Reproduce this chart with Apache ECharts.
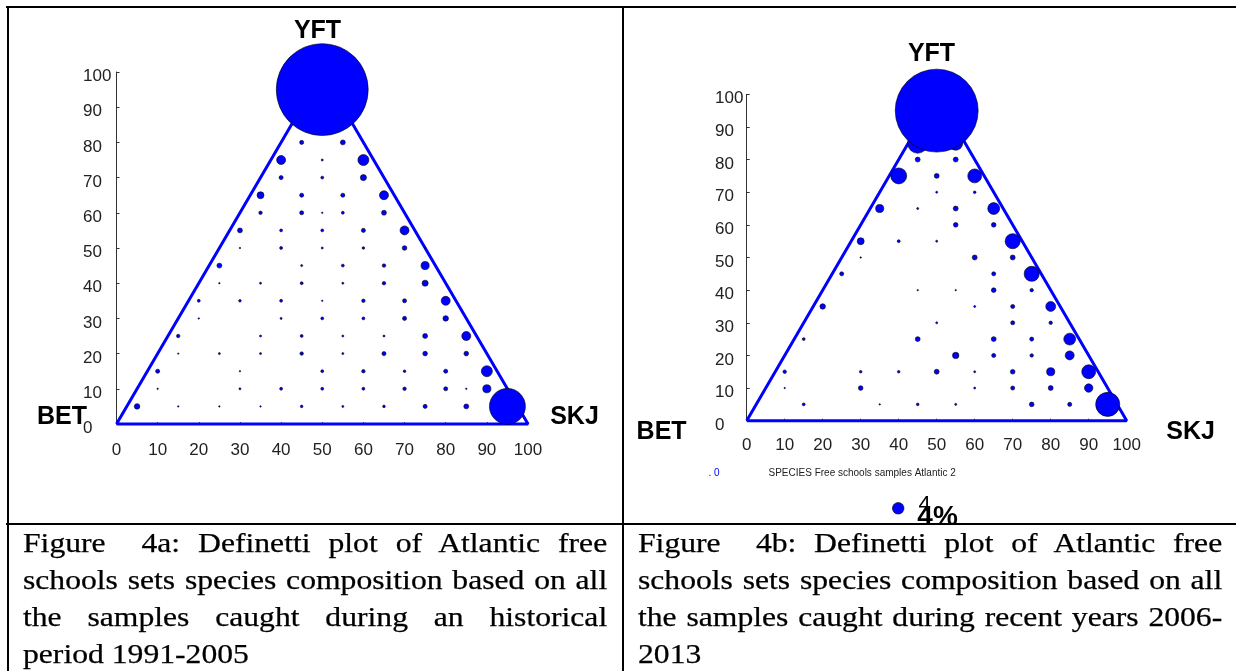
<!DOCTYPE html>
<html>
<head>
<meta charset="utf-8">
<script src="https://cdn.jsdelivr.net/npm/echarts@6/dist/echarts.min.js"></script>
<style>
  html, body { margin: 0; padding: 0; background: #fff; }
  #chart { position: absolute; left: 0; top: 0; width: 1236px; height: 671px; }
  .rule { position: absolute; background: #000; z-index: 5; }
  .cap { position: absolute; z-index: 6; font-family: 'Liberation Serif', 'Times New Roman', serif;
         font-size: 28px; line-height: 37px; color: #000; transform: scaleX(1.13); transform-origin: 0 0;
         width: 517px; -webkit-text-stroke: 0.25px #000; }
  .cap div { white-space: nowrap; text-align: justify; text-align-last: justify; }
  .cap div.last { text-align: left; text-align-last: left; }
</style>
</head>
<body>
<div id="chart"></div>
<div class="rule" style="left:6px;top:6px;width:1236px;height:2px"></div>
<div class="rule" style="left:7px;top:6px;width:2px;height:670px"></div>
<div class="rule" style="left:622px;top:6px;width:2px;height:670px"></div>
<div class="rule" style="left:6px;top:523px;width:1236px;height:2px"></div>
<div class="cap" id="capA" style="left:23px;top:524px"></div>
<div class="cap" id="capB" style="left:638px;top:524px"></div>
<script>
// ---- data: [BET-SKJ axis %, YFT %, share of samples %] ----
const histPoints = [
  [50,95,31.7],
  [45,85,2.1],[55,85,1.4],
  [45,80,1.4],[55,80,1.7],
  [40,75,3.1],[50,75,0.7],[60,75,3.8],
  [40,70,1.4],[50,70,1.0],[60,70,2.1],
  [35,65,2.4],[45,65,1.4],[55,65,1.4],[65,65,3.1],
  [35,60,1.2],[45,60,1.4],[50,60,0.5],[55,60,1.0],[65,60,1.7],
  [30,55,1.7],[40,55,1.0],[50,55,1.0],[60,55,1.4],[70,55,3.1],
  [30,50,0.5],[40,50,1.0],[50,50,0.7],[60,50,0.9],[70,50,1.6],[75,50,0.5],
  [25,45,1.7],[45,45,0.7],[55,45,1.0],[65,45,1.2],[75,45,2.8],
  [25,40,0.5],[35,40,0.7],[45,40,1.0],[55,40,0.7],[65,40,1.2],[75,40,2.1],
  [20,35,1.0],[30,35,0.9],[40,35,1.0],[50,35,0.5],[60,35,1.2],[70,35,1.4],[80,35,3.1],
  [20,30,0.5],[40,30,0.7],[50,30,1.0],[60,30,1.0],[70,30,1.4],[80,30,1.9],
  [15,25,1.2],[35,25,0.7],[45,25,1.0],[55,25,0.7],[65,25,0.7],[75,25,1.7],[85,25,3.1],
  [15,20,0.5],[25,20,0.7],[35,20,0.7],[45,20,1.2],[55,20,0.7],[65,20,1.4],[75,20,1.6],[85,20,1.6],
  [10,15,1.4],[30,15,0.5],[50,15,1.0],[60,15,1.2],[70,15,0.9],[80,15,1.4],[90,15,3.8],
  [10,10,0.5],[30,10,0.7],[40,10,1.0],[50,10,1.0],[60,10,1.0],[70,10,1.2],[80,10,1.4],[85,10,0.5],[90,10,2.8],
  [5,5,1.9],[15,5,0.5],[25,5,0.5],[35,5,0.5],[45,5,0.9],[55,5,0.7],[65,5,0.9],[75,5,1.4],[85,5,1.7],[95,5,12.4]
];
const recentPoints = [
  [50,95,28.6],
  [45,85,6.9],[55,85,4.8],
  [45,80,1.7],[55,80,1.7],
  [40,75,5.5],[50,75,1.7],[60,75,4.8],
  [50,70,0.7],[60,70,0.9],
  [35,65,2.8],[45,65,0.7],[55,65,1.7],[65,65,4.1],
  [55,60,1.6],[65,60,1.6],
  [30,55,2.4],[40,55,1.0],[50,55,0.7],[70,55,5.2],
  [30,50,0.5],[60,50,1.7],[70,50,1.7],
  [25,45,1.4],[65,45,1.4],[75,45,5.2],
  [45,40,0.5],[55,40,0.5],[65,40,1.6],[75,40,1.2],
  [20,35,1.9],[60,35,0.7],[70,35,1.4],[80,35,3.4],
  [50,30,0.7],[70,30,1.4],[80,30,1.2],
  [15,25,1.0],[45,25,1.7],[65,25,1.7],[75,25,1.4],[85,25,4.1],
  [55,20,2.2],[65,20,1.4],[75,20,1.2],[85,20,3.1],
  [10,15,1.2],[30,15,0.9],[40,15,0.9],[50,15,1.7],[60,15,0.7],[70,15,1.6],[80,15,2.8],[90,15,4.8],
  [10,10,0.5],[30,10,1.6],[60,10,0.7],[70,10,1.4],[80,10,1.7],[90,10,2.9],
  [15,5,1.0],[35,5,0.5],[45,5,0.9],[55,5,0.7],[75,5,1.6],[85,5,1.4],[95,5,8.3]
];
const triangle = [[0,0],[50,100],[100,0],[0,0]];
const vertexLabels = ['YFT','BET','SKJ'];
const legendPct = 4;
const legendTitle = 'SPECIES Free schools samples Atlantic 2';
const captionA = ['Figure\u00a0\u00a04a: Definetti plot of Atlantic free','schools sets species composition based on all','the samples caught during an historical','period 1991-2005'];
const captionB = ['Figure\u00a0\u00a04b: Definetti plot of Atlantic free','schools sets species composition based on all','the samples caught during recent years 2006-','2013'];

// ---- captions ----
function fillCap(id, lines){
  const el = document.getElementById(id);
  lines.forEach((t,i)=>{ const d=document.createElement('div'); d.textContent=t; if(i===lines.length-1) d.className='last'; el.appendChild(d); });
}
fillCap('capA', captionA); fillCap('capB', captionB);

// ---- chart ----
const K = 2.9; // symbol diameter in px per percent
const BLUE = '#0000ff';
const tickFont = "'Liberation Sans Narrow','Arial Narrow','Liberation Sans',Arial,sans-serif";
const sorted = a => a.slice().sort((p,q)=>p[2]-q[2]);

function xAx(gi, margin){
  return { gridIndex: gi, type:'value', min:0, max:100, interval:10,
    axisLine:{show:false}, splitLine:{show:false},
    axisTick:{show:true, inside:true, length:2, lineStyle:{color:'#444'}},
    axisLabel:{margin, fontFamily:tickFont, fontSize:17, color:'#222'} };
}
function yAx(gi, margin){
  return { gridIndex: gi, type:'value', min:0, max:100, interval:10,
    axisLine:{show:true, lineStyle:{color:'#333', width:1}}, splitLine:{show:false},
    axisTick:{show:true, inside:true, length:3, lineStyle:{color:'#333'}},
    axisLabel:{margin, align:'left', verticalAlign:'top', lineHeight:9, fontFamily:tickFont, fontSize:17, color:'#222'} };
}
function scat(i, pts){
  return { type:'scatter', xAxisIndex:i, yAxisIndex:i, clip:false, z:3,
    data: sorted(pts), symbol:'circle', symbolSize: v => v[2]*K,
    itemStyle:{color:BLUE, borderColor:'#000', borderWidth:0.6, opacity:1},
    emphasis:{disabled:true} };
}
function tri(i){
  return { type:'line', xAxisIndex:i, yAxisIndex:i, data:triangle, symbol:'none', clip:false, z:2,
    lineStyle:{color:BLUE, width:3}, silent:true };
}
const bold = "bold 25px 'Liberation Sans', Arial, sans-serif";
const small = "10px 'Liberation Sans Narrow','Arial Narrow','Liberation Sans',sans-serif";
function txt(t, x, y, font, fill, align){
  return { type:'text', x, y, z:10, style:{ text:t, font, fill: fill||'#000', align: align||'center', verticalAlign:'middle' } };
}

const chart = echarts.init(document.getElementById('chart'), null, {renderer:'canvas'});
chart.setOption({
  animation:false,
  grid:[
    {left:116.5, top:72, width:411.5, height:352},
    {left:746.7, top:94.3, width:380, height:326.4}
  ],
  xAxis:[xAx(0,18), xAx(1,16)],
  yAxis:[yAx(0,33.5), yAx(1,31.7)],
  series:[tri(0), scat(0, histPoints), tri(1), scat(1, recentPoints)],
  graphic:[
    txt(vertexLabels[0], 317.5, 31.5, bold),
    txt(vertexLabels[1], 62, 417, bold),
    txt(vertexLabels[2], 574.5, 417, bold),
    txt(vertexLabels[0], 931.5, 54, bold),
    txt(vertexLabels[1], 661.6, 432, bold),
    txt(vertexLabels[2], 1190.6, 432, bold),
    txt('. 0', 714, 473.3, small, BLUE),
    txt(legendTitle, 768.5, 473.3, small, '#222', 'left'),
    { type:'circle', z:10, shape:{cx:898.2, cy:508.3, r:legendPct*K/2}, style:{fill:BLUE, stroke:'#000', lineWidth:0.6} },
    txt(String(legendPct), 924.5, 505, "22px 'Liberation Sans', Arial, sans-serif"),
    txt(legendPct + '%', 937.6, 517.5, "bold 28px 'Liberation Sans', Arial, sans-serif")
  ]
});
</script>
</body>
</html>
